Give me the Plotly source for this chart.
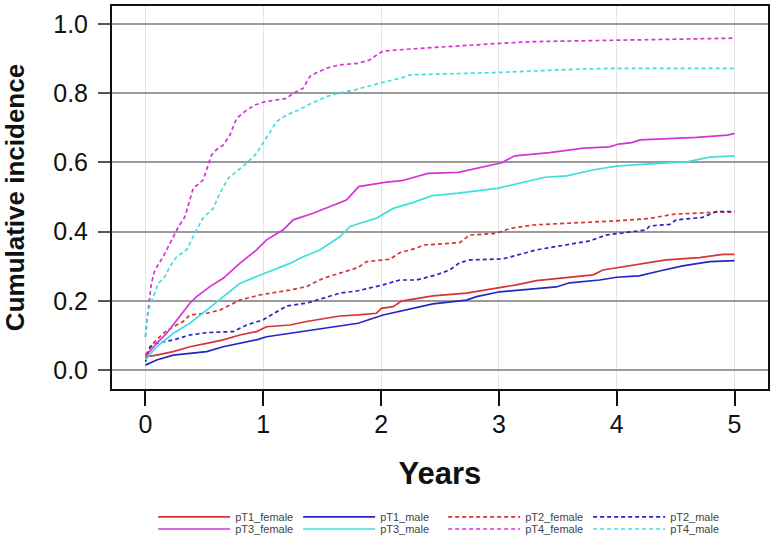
import plotly.graph_objects as go

# ---- data (years, cumulative incidence) ----
pT1_female_t = [0, 0.095, 0.236, 0.377, 0.519, 0.66, 0.80, 0.943, 1.028, 1.226, 1.367, 1.508, 1.65, 1.805, 1.961, 2.003, 2.102, 2.173, 2.44, 2.724, 3.007, 3.148, 3.318, 3.572, 3.80, 3.883, 4.137, 4.42, 4.70, 4.90, 5.0]
pT1_female_v = [0.038, 0.043, 0.053, 0.067, 0.077, 0.087, 0.101, 0.111, 0.125, 0.130, 0.140, 0.149, 0.156, 0.159, 0.164, 0.178, 0.183, 0.199, 0.214, 0.222, 0.238, 0.246, 0.258, 0.268, 0.275, 0.289, 0.303, 0.318, 0.325, 0.334, 0.334]

pT1_male_t = [0, 0.095, 0.236, 0.377, 0.519, 0.66, 0.80, 0.943, 1.028, 1.226, 1.367, 1.508, 1.65, 1.805, 2.017, 2.159, 2.44, 2.724, 2.81, 3.007, 3.29, 3.487, 3.60, 3.855, 4.0, 4.19, 4.364, 4.56, 4.79, 5.0]
pT1_male_v = [0.014, 0.029, 0.043, 0.048, 0.053, 0.067, 0.077, 0.087, 0.096, 0.106, 0.114, 0.120, 0.127, 0.135, 0.159, 0.169, 0.191, 0.202, 0.212, 0.226, 0.233, 0.240, 0.252, 0.260, 0.268, 0.272, 0.286, 0.301, 0.313, 0.316]

pT2_female_t = [0, 0.066, 0.15, 0.236, 0.32, 0.377, 0.519, 0.632, 0.80, 0.971, 1.226, 1.367, 1.508, 1.65, 1.805, 1.876, 2.074, 2.159, 2.30, 2.356, 2.667, 2.752, 2.979, 3.092, 3.29, 3.572, 4.0, 4.28, 4.477, 4.845, 5.0]
pT2_female_v = [0.043, 0.077, 0.106, 0.125, 0.140, 0.159, 0.164, 0.173, 0.202, 0.217, 0.231, 0.241, 0.265, 0.279, 0.296, 0.313, 0.320, 0.339, 0.352, 0.361, 0.368, 0.390, 0.395, 0.409, 0.419, 0.424, 0.431, 0.438, 0.450, 0.456, 0.456]

pT2_male_t = [0, 0.038, 0.095, 0.236, 0.377, 0.519, 0.745, 0.858, 0.999, 1.113, 1.198, 1.367, 1.508, 1.65, 1.805, 2.017, 2.159, 2.30, 2.47, 2.583, 2.667, 2.752, 3.035, 3.148, 3.318, 3.487, 3.77, 3.91, 4.08, 4.25, 4.28, 4.45, 4.505, 4.73, 4.845, 5.0]
pT2_male_v = [0.024, 0.067, 0.077, 0.087, 0.101, 0.108, 0.111, 0.130, 0.145, 0.169, 0.185, 0.193, 0.207, 0.222, 0.229, 0.246, 0.260, 0.260, 0.275, 0.289, 0.310, 0.318, 0.321, 0.332, 0.347, 0.357, 0.373, 0.390, 0.397, 0.405, 0.416, 0.421, 0.434, 0.441, 0.458, 0.458]

pT3_female_t = [0, 0.095, 0.18, 0.265, 0.377, 0.434, 0.547, 0.66, 0.80, 0.943, 1.028, 1.169, 1.254, 1.423, 1.593, 1.706, 1.81, 2.03, 2.177, 2.398, 2.655, 2.876, 3.024, 3.134, 3.43, 3.72, 3.94, 4.016, 4.127, 4.20, 4.68, 4.94, 5.0]
pT3_female_v = [0.038, 0.077, 0.106, 0.145, 0.193, 0.212, 0.241, 0.265, 0.308, 0.347, 0.376, 0.405, 0.434, 0.453, 0.477, 0.491, 0.530, 0.542, 0.547, 0.568, 0.571, 0.588, 0.599, 0.619, 0.628, 0.641, 0.645, 0.653, 0.657, 0.665, 0.672, 0.679, 0.684]

pT3_male_t = [0, 0.095, 0.236, 0.377, 0.519, 0.66, 0.80, 0.943, 1.084, 1.226, 1.338, 1.48, 1.65, 1.734, 1.819, 1.957, 2.104, 2.287, 2.435, 2.655, 2.986, 3.134, 3.39, 3.575, 3.795, 4.016, 4.384, 4.605, 4.79, 5.0]
pT3_male_v = [0.029, 0.067, 0.106, 0.135, 0.173, 0.212, 0.250, 0.270, 0.289, 0.308, 0.327, 0.347, 0.385, 0.414, 0.424, 0.438, 0.467, 0.486, 0.504, 0.511, 0.525, 0.537, 0.557, 0.561, 0.578, 0.590, 0.597, 0.602, 0.615, 0.619]

pT4_female_t = [0, 0.01, 0.05, 0.08, 0.15, 0.21, 0.28, 0.335, 0.405, 0.49, 0.56, 0.60, 0.66, 0.717, 0.773, 0.858, 0.929, 1.01, 1.198, 1.254, 1.338, 1.395, 1.438, 1.537, 1.65, 1.80, 1.904, 1.961, 2.017, 2.30, 2.72, 3.007, 3.29, 4.0, 4.56, 5.0]
pT4_female_v = [0.096, 0.135, 0.250, 0.289, 0.327, 0.366, 0.414, 0.443, 0.525, 0.549, 0.621, 0.636, 0.650, 0.679, 0.727, 0.751, 0.766, 0.775, 0.785, 0.800, 0.814, 0.848, 0.857, 0.872, 0.882, 0.886, 0.896, 0.910, 0.922, 0.929, 0.939, 0.944, 0.949, 0.954, 0.957, 0.959]

pT4_male_t = [0, 0.024, 0.066, 0.109, 0.165, 0.208, 0.265, 0.349, 0.434, 0.49, 0.575, 0.632, 0.702, 0.773, 0.858, 0.943, 1.014, 1.113, 1.198, 1.31, 1.41, 1.537, 1.65, 1.77, 1.99, 2.215, 2.243, 3.007, 3.71, 4.0, 5.0]
pT4_male_v = [0.096, 0.173, 0.212, 0.250, 0.270, 0.299, 0.327, 0.347, 0.405, 0.440, 0.467, 0.511, 0.554, 0.573, 0.597, 0.626, 0.665, 0.718, 0.737, 0.753, 0.771, 0.790, 0.801, 0.809, 0.829, 0.848, 0.853, 0.860, 0.870, 0.872, 0.872]

series_names = ["pT1_female", "pT1_male", "pT2_female", "pT2_male",
                "pT3_female", "pT3_male", "pT4_female", "pT4_male"]
series_t = [pT1_female_t, pT1_male_t, pT2_female_t, pT2_male_t,
            pT3_female_t, pT3_male_t, pT4_female_t, pT4_male_t]
series_v = [pT1_female_v, pT1_male_v, pT2_female_v, pT2_male_v,
            pT3_female_v, pT3_male_v, pT4_female_v, pT4_male_v]

x_ticks = [0, 1, 2, 3, 4, 5]
y_ticks = [0.0, 0.2, 0.4, 0.6, 0.8, 1.0]
y_tick_text = ["0.0", "0.2", "0.4", "0.6", "0.8", "1.0"]

# ---- styles ----
RED = "#d83434"
BLUE = "#2626c4"
MAG = "#d633d6"
CYAN = "#40dede"
colors = [RED, BLUE, RED, BLUE, MAG, CYAN, MAG, CYAN]
dashes = ["solid", "solid", "4px,3px", "4px,3px", "solid", "solid", "4px,3px", "4px,3px"]
legends = ["legend", "legend", "legend", "legend", "legend2", "legend2", "legend2", "legend2"]

fig = go.Figure()
for name, t, v, c, d, lg in zip(series_names, series_t, series_v, colors, dashes, legends):
    fig.add_trace(go.Scatter(
        x=t, y=v, name=name, mode="lines",
        line=dict(color=c, width=1.7, dash=d),
        legend=lg,
    ))

FONT = "Arial, Liberation Sans, sans-serif"
leg_common = dict(
    orientation="h", xanchor="left", yanchor="middle",
    font=dict(family=FONT, size=11, color="#444444"),
    itemwidth=72, entrywidth=58, entrywidthmode="pixels",
    bgcolor="rgba(0,0,0,0)", tracegroupgap=0, itemclick=False,
)

fig.update_layout(
    width=774, height=539,
    margin=dict(l=112, r=6, t=6, b=150, autoexpand=False),
    paper_bgcolor="white", plot_bgcolor="white",
    font=dict(family=FONT, color="#111111"),
    showlegend=True,
    legend=dict(x=0.0627, y=-0.334, **leg_common),
    legend2=dict(x=0.0627, y=-0.3655, **leg_common),
    xaxis=dict(
        range=[-0.284, 5.284], tickvals=x_ticks, ticktext=[str(x) for x in x_ticks],
        showgrid=True, gridcolor="#e3e3e3", gridwidth=1,
        zeroline=False, showline=True, linecolor="#111111", linewidth=2, mirror=True,
        ticks="outside", ticklen=15, tickwidth=1.5, tickcolor="#111111",
        ticklabelstandoff=-3,
        tickfont=dict(size=25, family=FONT, color="#111111"),
        title=dict(text="<b>Years</b>", font=dict(size=31, family=FONT, color="#111111"), standoff=25),
    ),
    yaxis=dict(
        range=[-0.055, 1.052], tickvals=y_ticks, ticktext=y_tick_text,
        showgrid=True, gridcolor="#9a9a9a", gridwidth=2,
        zeroline=False, showline=True, linecolor="#111111", linewidth=2, mirror=True,
        ticks="outside", ticklen=12, tickwidth=1.5, tickcolor="#555555",
        ticklabelstandoff=5,
        tickfont=dict(size=25, family=FONT, color="#111111"),
        title=dict(text="<b>Cumulative incidence</b>", font=dict(size=26, family=FONT, color="#111111"), standoff=23),
    ),
)

fig.write_html("out.html", config={"displayModeBar": False},
               post_script="document.body.style.margin='0px';")
